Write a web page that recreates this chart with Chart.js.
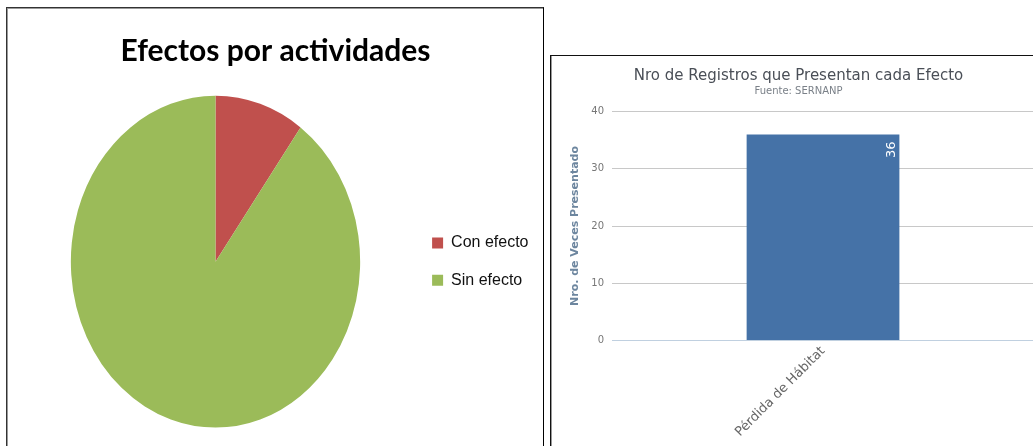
<!DOCTYPE html>
<html>
<head>
<meta charset="utf-8">
<title>Efectos</title>
<script src="https://cdn.jsdelivr.net/npm/chart.js@4.4.1/dist/chart.umd.min.js"></script>
<style>
  html, body { margin: 0; padding: 0; background: #fff; width: 1033px; height: 446px; overflow: hidden; }
  #leftBox { position: absolute; left: 6px; top: 7px; width: 536px; height: 480px;
             border: 1px solid #333; border-right-color: #000; box-shadow: inset 1px 1px 0 #999; }
  #rightBox { position: absolute; left: 550px; top: 55px; width: 520px; height: 420px;
              border-top: 1px solid #111; border-left: 1px solid #111; box-shadow: inset 1px 0 0 #999; }
  #pieChart { position: absolute; left: 8px; top: 9px; }
  #barChart { position: absolute; left: 552px; top: 57px; }
</style>
</head>
<body>
<div id="leftBox"></div>
<div id="rightBox"></div>
<canvas id="pieChart" width="535" height="437"></canvas>
<canvas id="barChart" width="482" height="389"></canvas>

<script>
// Pie data (left)
const pieLabels = ['Con efecto', 'Sin efecto'];
const pieValues = [10, 90];
const pieColors = ['#C0504D', '#9BBB59'];

// Bar data (right)
const barCategories = ['Pérdida de Hábitat'];
const barValues = [36];
const yMin = 0;
const yMax = 40;
const yStep = 10;

const titleFont = "Lato, 'DejaVu Sans Condensed', sans-serif";
const hcFont = "'DejaVu Sans', Verdana, sans-serif";

// the original pie is drawn taller than wide, so stretch the slices vertically
const stretchY = 165.8 / 144.5;
const ellipsePlugin = {
    id: 'ellipse',
    beforeDatasetsDraw(chart) {
        const a = chart.chartArea;
        const ctx = chart.ctx;
        const cy = (a.top + a.bottom) / 2;
        ctx.save();
        ctx.translate(0, cy);
        ctx.scale(1, stretchY);
        ctx.translate(0, -cy);
    },
    afterDatasetsDraw(chart) {
        chart.ctx.restore();
    }
};

// white rotated value labels near the top of each column
const barLabelPlugin = {
    id: 'barLabels',
    afterDatasetsDraw(chart) {
        const ctx = chart.ctx;
        chart.getDatasetMeta(0).data.forEach((bar, i) => {
            const p = bar.getProps(['x', 'y', 'width'], true);
            ctx.save();
            ctx.translate(p.x + p.width / 2 - 8, p.y + 7);
            ctx.rotate(-Math.PI / 2);
            ctx.font = "13px " + hcFont;
            ctx.fillStyle = '#ffffff';
            ctx.textAlign = 'right';
            ctx.textBaseline = 'middle';
            ctx.fillText(String(barValues[i]), 0, 0);
            ctx.restore();
        });
    }
};

new Chart(document.getElementById('pieChart'), {
    type: 'pie',
    data: {
        labels: pieLabels,
        datasets: [{
            data: pieValues,
            backgroundColor: pieColors,
            borderWidth: 0,
            clip: false
        }]
    },
    options: {
        responsive: false,
        animation: false,
        devicePixelRatio: 1,
        layout: { padding: { left: 12.3, right: 12.3, top: 0, bottom: 39.7 } },
        plugins: {
            title: {
                display: true,
                text: 'Efectos por actividades',
                color: '#000',
                font: { family: titleFont, size: 30, weight: 'bold' },
                padding: { top: 24, bottom: 48 }
            },
            legend: {
                position: 'right',
                fullSize: false,
                maxWidth: 120,
                labels: {
                    boxWidth: 11,
                    boxHeight: 11,
                    padding: 21.4,
                    color: '#111',
                    font: { family: "'Liberation Sans', Arial, sans-serif", size: 16 }
                }
            },
            tooltip: { enabled: false }
        }
    },
    plugins: [ellipsePlugin]
});

new Chart(document.getElementById('barChart'), {
    type: 'bar',
    data: {
        labels: barCategories,
        datasets: [{
            data: barValues,
            backgroundColor: '#4572A7',
            borderWidth: 0,
            categoryPercentage: 1,
            barPercentage: 0.362
        }]
    },
    options: {
        responsive: false,
        animation: false,
        devicePixelRatio: 1,
        layout: { padding: { left: 11, right: 0, top: 0, bottom: 3 } },
        plugins: {
            legend: { display: false },
            tooltip: { enabled: false },
            title: {
                display: true,
                text: 'Nro de Registros que Presentan cada Efecto',
                color: '#4a4f57',
                font: { family: hcFont, size: 15, weight: 'normal' },
                padding: { top: 10, bottom: 0 }
            },
            subtitle: {
                display: true,
                text: 'Fuente: SERNANP',
                color: '#7a8088',
                font: { family: hcFont, size: 10 },
                padding: { top: 0, bottom: 14.5 }
            }
        },
        scales: {
            x: {
                grid: { display: false, drawTicks: false },
                border: { display: true, color: '#C0D0E0' },
                ticks: {
                    color: '#666',
                    font: { family: hcFont, size: 13 },
                    minRotation: 45,
                    maxRotation: 45,
                    padding: 3
                }
            },
            y: {
                min: yMin,
                max: yMax,
                ticks: {
                    stepSize: yStep,
                    color: '#777',
                    font: { family: hcFont, size: 10 },
                    padding: 8
                },
                grid: { color: '#C8C8C8', drawTicks: false },
                border: { display: false },
                title: {
                    display: true,
                    text: 'Nro. de Veces Presentado',
                    color: '#6D869F',
                    font: { family: hcFont, size: 11, weight: 'bold' },
                    padding: { top: 5.4, bottom: 1.7 }
                }
            }
        }
    },
    plugins: [barLabelPlugin]
});
</script>
</body>
</html>
